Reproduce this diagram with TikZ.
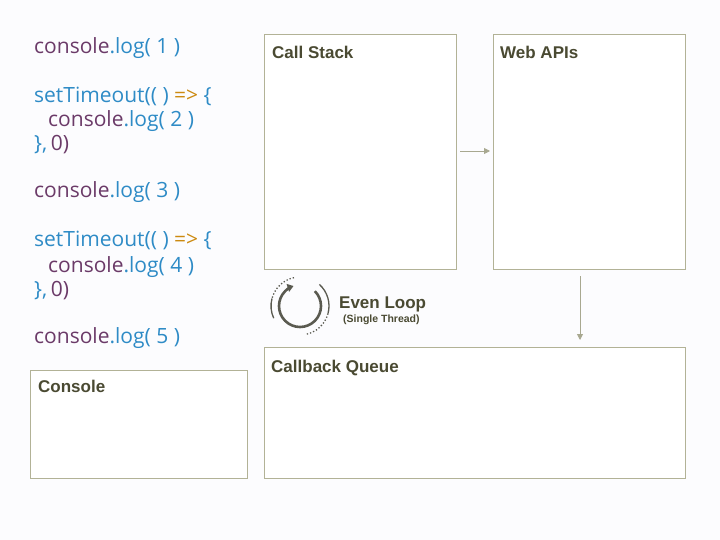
\documentclass[tikz,border=0pt]{standalone}
\usepackage{fontspec}
\setmainfont{Liberation Sans}
\newfontfamily\codefont{Open Sans}
\usetikzlibrary{arrows.meta,calc}
\definecolor{bg}{HTML}{FCFCFE}
\definecolor{boxline}{HTML}{B2B296}
\definecolor{title}{HTML}{4A4A32}
\definecolor{cpurple}{HTML}{6B3A68}
\definecolor{cblue}{HTML}{2E8BC6}
\definecolor{corange}{HTML}{CC8A10}
\definecolor{icon}{HTML}{5A5A50}
\definecolor{arr}{HTML}{A8A890}
\newcommand{\cl}[1]{\textcolor{cpurple}{console}\textcolor{cblue}{.log( #1 )}}
\newcommand{\st}{\textcolor{cblue}{setTimeout(( )} \textcolor{corange}{=>} \textcolor{cblue}{\{}}
\newcommand{\ed}{\textcolor{cblue}{\},}\,\textcolor{cpurple}{0)}}
\begin{document}
\begin{tikzpicture}[x=1pt,y=-1pt,
  panel/.style={draw=boxline,line width=0.8pt,fill=white},
  paneltitle/.style={anchor=base west,font=\bfseries\fontsize{17}{19}\selectfont,text=title,inner sep=0pt},
  code/.style={anchor=base west,font=\codefont\fontsize{21}{24}\selectfont,inner sep=0pt},
  flow/.style={draw=arr,line width=0.8pt,-{Triangle[width=6pt,length=6pt]}}]
\fill[bg] (0,0) rectangle (720,540);
\useasboundingbox (0,0) rectangle (720,540);
% code
\node[code] (l1) at (34,54) {\cl{1}};
\node[code] (l2) at (34,103) {\st};
\node[code] (l3) at (48,127) {\cl{2}};
\node[code] (l4) at (34,151) {\ed};
\node[code] (l5) at (34,198) {\cl{3}};
\node[code] (l6) at (34,247) {\st};
\node[code] (l7) at (48,272) {\cl{4}};
\node[code] (l8) at (34,296) {\ed};
\node[code] (l9) at (34,343) {\cl{5}};
% panels
\draw[panel] (264,34) rectangle (456,269);
\coordinate (csE) at (460,151);
\node[paneltitle] (cs) at (272,59) {Call Stack};
\draw[panel] (493,34) rectangle (685,269);
\coordinate (waW) at (490,151);
\node[paneltitle] (wa) at (500,59) {Web APIs};
\draw[panel] (264,347) rectangle (685,478);
\node[paneltitle] (cq) at (271,372) {Callback Queue};
\draw[panel] (30,370) rectangle (247,478);
\node[paneltitle] (co) at (38,392) {Console};
\coordinate (waS) at (580,276);
\coordinate (cqN) at (580,340);
\draw[flow] (csE) -- (waW);
\draw[flow] (waS) -- (cqN);
% event loop icon
\coordinate (el) at (300,306);
\draw[icon,line width=2.6pt,-{Triangle[width=8pt,length=6pt]}] ($(el)+(-45:21)$) arc[start angle=-45,end angle=252,radius=21];
\draw[icon,line width=1.3pt,dotted] ($(el)+(-102:29)$) arc[start angle=-102,end angle=-165,radius=29];
\draw[icon,line width=1.3pt] ($(el)+(-165:29)$) arc[start angle=-165,end angle=-205,radius=29];
\draw[icon,line width=1.3pt] ($(el)+(-48:29)$) arc[start angle=-48,end angle=15,radius=29];
\draw[icon,line width=1.3pt,dotted] ($(el)+(15:29)$) arc[start angle=15,end angle=80,radius=29];
\node[anchor=base west,inner sep=0pt,font=\bfseries\fontsize{17}{19}\selectfont,text=title] (elt) at (339,308) {Even Loop};
\node[anchor=base west,inner sep=0pt,font=\bfseries\fontsize{10.5}{12}\selectfont,text=title] (els) at (343,322) {(Single Thread)};
\end{tikzpicture}
\end{document}
